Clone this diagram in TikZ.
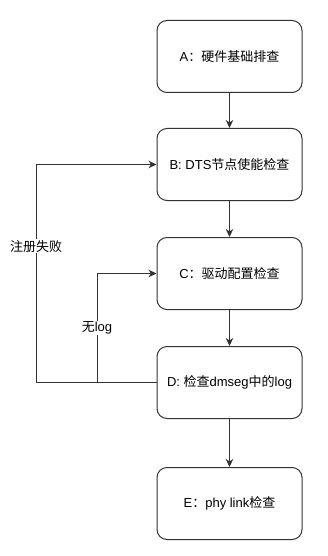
\documentclass[tikz,border=0pt]{standalone}
\usepackage{fontspec}
\setmainfont{Liberation Sans}
\newfontfamily\cjk{Noto Sans CJK SC}
\usetikzlibrary{positioning,arrows.meta}
\definecolor{flowline}{HTML}{333333}

\begin{document}
\begin{tikzpicture}[
  stepbox/.style={draw=flowline, line width=1pt, rounded corners=10pt,
    minimum width=145pt, minimum height=72pt, inner sep=0pt, font=\fontsize{13pt}{15pt}\selectfont},
  link/.style={draw=flowline, line width=1pt, -{Stealth[length=8pt,width=7.5pt,inset=2.5pt]}},
  lbl/.style={fill=white, inner sep=1pt, font=\fontsize{13pt}{15pt}\selectfont},
]
\useasboundingbox (0,0) rectangle (327pt,-556pt);

% steps
\node[stepbox] (A) at (229.5pt,-56.5pt) {A{\cjk ：硬件基础排查}};
\node[stepbox, below=35pt of A] (B) {B: DTS{\cjk 节点使能检查}};
\node[stepbox, below=36pt of B] (C) {C{\cjk ：驱动配置检查}};
\node[stepbox, below=36pt of C] (D) {D: {\cjk 检查}dmseg{\cjk 中的}log};
\node[stepbox, below=48pt of D] (E) {E{\cjk ：}phy link{\cjk 检查}};

% main flow
\draw[link] (A) -- (B);
\draw[link] (B) -- (C);
\draw[link] (C) -- (D);
\draw[link] (D) -- (E);

% loop backs
\coordinate (failx) at (36pt,0);
\coordinate (nologx) at (97pt,0);
\draw[link] (D.west) -- (D.west -| failx) |- node[lbl, pos=0.3125] {\cjk 注册失败} (B.west);
\draw[link] (D.west) -- (D.west -| nologx) |- node[lbl, pos=0.25] {{\cjk 无}log} (C.west);

\end{tikzpicture}
\end{document}
